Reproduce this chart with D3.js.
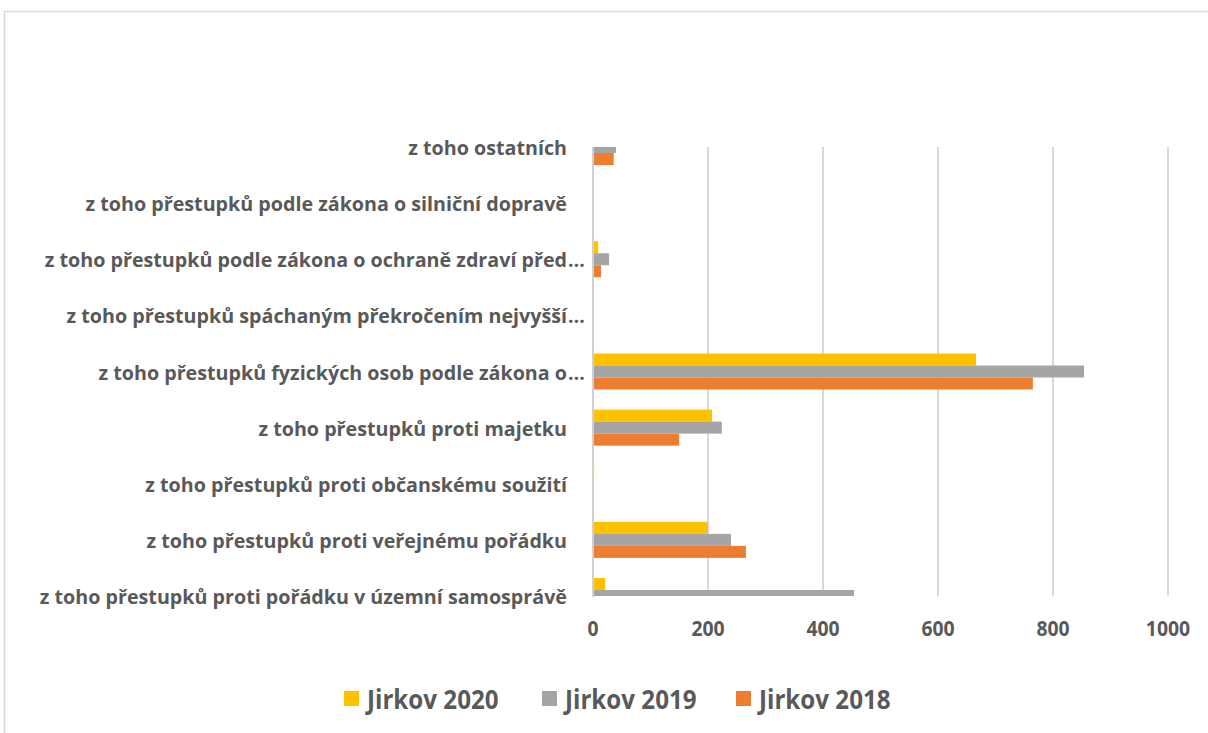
<!DOCTYPE html>
<html>
<head>
<meta charset="utf-8">
<script src="https://cdn.jsdelivr.net/npm/d3@7"></script>
<style>
    html, body { margin: 0; padding: 0; background: #fff; }
    #chart { width: 1208px; height: 733px; overflow: hidden; }
</style>
</head>
<body>
<div id="chart"></div>
<script>
// Category labels, top to bottom as shown in the chart
const categories = [
    "z toho ostatních",
    "z toho přestupků podle zákona o silniční dopravě",
    "z toho přestupků podle zákona o ochraně zdraví před…",
    "z toho přestupků spáchaným překročením nejvyšší…",
    "z toho přestupků fyzických osob podle zákona o…",
    "z toho přestupků proti majetku",
    "z toho přestupků proti občanskému soužití",
    "z toho přestupků proti veřejnému pořádku",
    "z toho přestupků proti pořádku v územní samosprávě"
];

const seriesNames = ["Jirkov 2020", "Jirkov 2019", "Jirkov 2018"];
const seriesColors = ["#FFC000", "#A5A5A5", "#ED7D31"];

const jirkov2020 = [0, 0, 9, 0, 666, 207, 2, 200, 21];
const jirkov2019 = [40, 0, 28, 0, 854, 224, 0, 240, 454];
const jirkov2018 = [36, 0, 14, 0, 765, 150, 0, 266, 0];

const xTicks = [0, 200, 400, 600, 800, 1000];

const seriesValues = [jirkov2020, jirkov2019, jirkov2018];

const width = 1208;
const height = 733;

const svg = d3.select("#chart")
    .append("svg")
    .attr("width", width)
    .attr("height", height);

// outer chart frame (runs off the right and bottom edge)
svg.append("rect")
    .attr("x", 4.5)
    .attr("y", 11.5)
    .attr("width", 1300)
    .attr("height", 900)
    .attr("fill", "none")
    .attr("stroke", "#D9D9D9")
    .attr("stroke-width", 1.5);

const plot = { left: 593, right: 1168, top: 147, bottom: 596 };

const x = d3.scaleLinear()
    .domain([0, 1000])
    .range([plot.left, plot.right]);

// categories sit on the tick marks, so the outer bars get cut in half
const y = d3.scalePoint()
    .domain(categories)
    .range([plot.top, plot.bottom])
    .padding(0);

const barH = 12;

svg.append("clipPath")
    .attr("id", "plot-clip")
    .append("rect")
    .attr("x", plot.left)
    .attr("y", plot.top)
    .attr("width", plot.right - plot.left + 20)
    .attr("height", plot.bottom - plot.top);

// vertical gridlines
svg.append("g")
    .selectAll("line")
    .data(xTicks.slice(1))
    .enter()
    .append("line")
    .attr("x1", d => x(d))
    .attr("x2", d => x(d))
    .attr("y1", plot.top)
    .attr("y2", plot.bottom)
    .attr("stroke", "#D9D9D9")
    .attr("stroke-width", 2);

// bars
const bars = svg.append("g").attr("clip-path", "url(#plot-clip)");
seriesValues.forEach(function(vals, si) {
    bars.selectAll(".bar-" + si)
        .data(vals)
        .enter()
        .append("rect")
        .attr("class", "bar-" + si)
        .attr("x", x(0))
        .attr("y", (d, i) => y(categories[i]) + (si - 1.5) * barH)
        .attr("width", d => x(d) - x(0))
        .attr("height", barH)
        .attr("fill", seriesColors[si]);
});

// category axis line
svg.append("line")
    .attr("x1", plot.left)
    .attr("x2", plot.left)
    .attr("y1", plot.top)
    .attr("y2", plot.bottom + 1)
    .attr("stroke", "#D0D0D0")
    .attr("stroke-width", 2);

const textColor = "#595959";
const fontFam = "'Open Sans', sans-serif";

// category labels; the ellipsis hangs past the label edge like in Excel
const labelEdge = 567;
const labels = svg.append("g")
    .attr("font-family", fontFam)
    .attr("font-weight", "bold")
    .attr("font-size", "19.7px")
    .attr("fill", textColor);

categories.forEach(function(c) {
    const cut = c.endsWith("…");
    const base = cut ? c.slice(0, -1) : c;
    labels.append("text")
        .attr("x", labelEdge)
        .attr("y", y(c) + 8)
        .attr("text-anchor", "end")
        .text(base);
    if (cut) {
        labels.append("text")
            .attr("x", labelEdge + 1)
            .attr("y", y(c) + 8)
            .text("…");
    }
});

// value axis labels
const ticks = svg.append("g")
    .attr("font-family", fontFam)
    .attr("font-weight", "bold")
    .attr("font-size", "22px")
    .attr("fill", textColor);

xTicks.forEach(function(t) {
    ticks.append("text")
        .attr("transform", `translate(${x(t)},636) scale(0.88,1)`)
        .attr("text-anchor", "middle")
        .text(t);
});

// legend
const legendX = [344, 542, 736];
const legend = svg.append("g")
    .attr("font-family", fontFam)
    .attr("font-weight", "bold")
    .attr("font-size", "26px")
    .attr("fill", textColor);

seriesNames.forEach(function(name, i) {
    legend.append("rect")
        .attr("x", legendX[i])
        .attr("y", 691)
        .attr("width", 15)
        .attr("height", 15)
        .attr("fill", seriesColors[i]);
    legend.append("text")
        .attr("transform", `translate(${legendX[i] + 23},709) scale(0.93,1)`)
        .text(name);
});
</script>
</body>
</html>
